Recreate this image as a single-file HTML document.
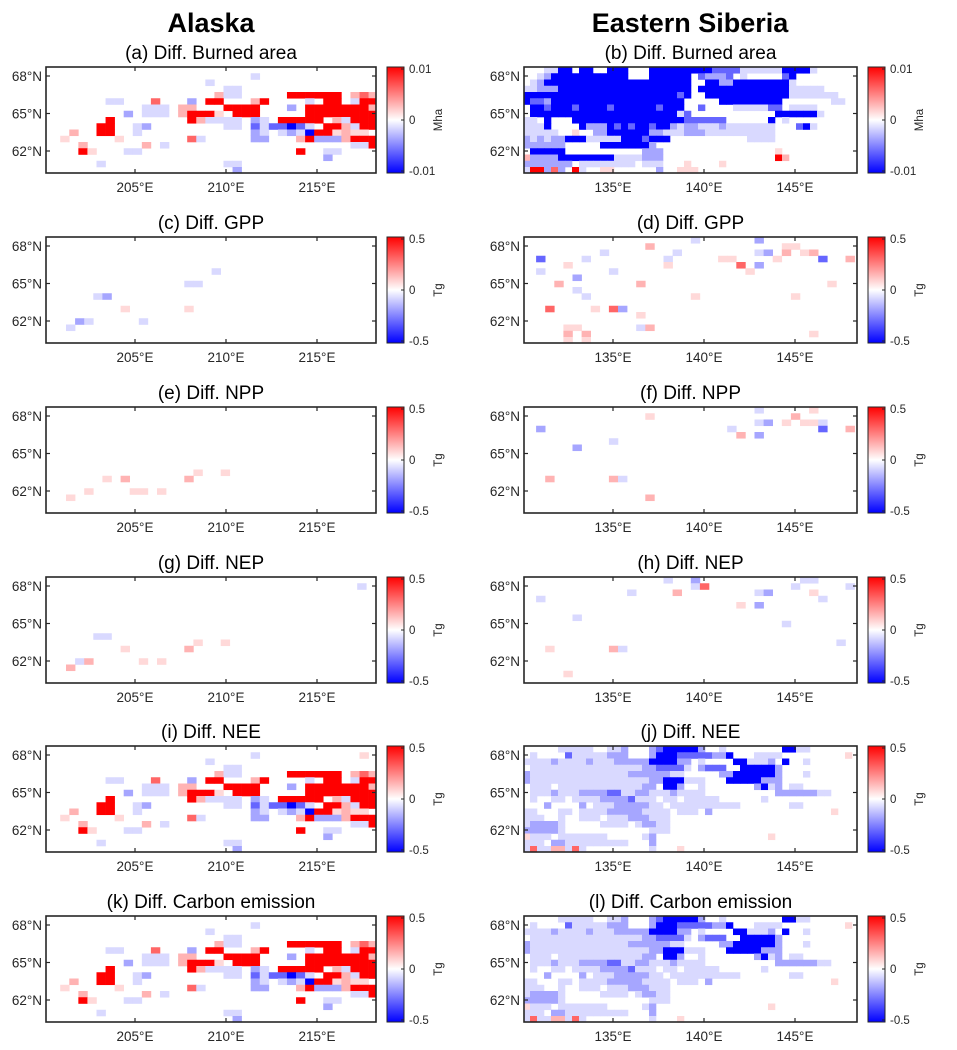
<!DOCTYPE html>
<html><head><meta charset="utf-8">
<style>
html,body{margin:0;padding:0;background:#fff;}
svg{display:block;font-family:"Liberation Sans",Arial,sans-serif;}
</style></head>
<body>
<svg id="fig" width="957" height="1050" viewBox="0 0 957 1050" xmlns="http://www.w3.org/2000/svg">
<defs>
<linearGradient id="cbgrad" x1="0" y1="0" x2="0" y2="1">
<stop offset="0" stop-color="#ff0000"/><stop offset="0.5" stop-color="#ffffff"/><stop offset="1" stop-color="#0000ff"/>
</linearGradient>
<clipPath id="clipL"><rect x="46" y="0" width="330" height="1050"/></clipPath>
<clipPath id="clipR"><rect x="524" y="0" width="333" height="1050"/></clipPath>
</defs>
<text x="211" y="32" font-size="27" font-weight="bold" text-anchor="middle">Alaska</text>
<text x="690" y="32" font-size="27" font-weight="bold" text-anchor="middle">Eastern Siberia</text>
</svg>
<script>
// value codes
const codeChars = ['.','p','q','r','R','l','m','b','B'];
const codeValues = [0,0.15,0.3,0.6,1,-0.15,-0.35,-0.6,-1];

const alaskaLonTicks = [205,210,215];
const siberiaLonTicks = [135,140,145];
const latTicks = [68,65,62];
const lonTickLabelsA = ['205°E','210°E','215°E'];
const lonTickLabelsS = ['135°E','140°E','145°E'];
const latTickLabels = ['68°N','65°N','62°N'];
const cbTicksBA = ['0.01','0','-0.01'];
const cbTicksTg = ['0.5','0','-0.5'];

const gridA = [
"......................................",
"........................l.............",
"...................l..................",
".....................ll...............",
"....................qll.....RRRRRR.qrq",
"........ll...r...m.RR...qR....l.RR.lRR",
"............lll.qq...RRRR...m.RRRRRRRq",
"..........m.lll.qRRRp.RRR.....RRRRRRRR",
"........R........Rqllll.ml.RRRRR.qlRRR",
".......RR..lm........ll.blbbBbl.RRqlRR",
"....q..RR..l............ml.lmlBRRpqpp",
"...p.....p.......rl.....mm...qRmmmqRRR",
".....q......q.l....................llR",
".....Rp...ll.................R..ll....",
"................................m.....",
".......l.............ll...............",
"......................m..............."];
const gridI = gridA.slice(0,1).concat(["........................l...........p."]).concat(gridA.slice(2));
const gridK = gridA.slice();

const gridB = [
"...llBB.BB..BBB...BBBBBBBBBbbbbllllllBBBBl......",
"..lmBBBBBBBBBBB...BBBBBB.bmmmb.l.....bB.........",
".lmBBBBBBBBBBBBBBBBBBBBB..BBmmBBBBBBBBl.........",
"llmmmBBBBBBBBBBBBBBBBBBB.BBBBBBBBBBBBBlllll.....",
"BBBBBBBBBBBBBBBBBBBBBBbB..BBBBBBBBBBBBlllllll...",
"BbbmBBBBBBBBBBBBBBBBBBB.....BBBBBBBBB.......ll..",
".BBbBBBbBBBBbBBBBBBbBBB..b....lllllbb.llll......",
".BBBBBBBBBBBBBBBBBBBBBlb............BBBBBBl.....",
"ll.B...BBBBBBBBBBBBBBBBbbbbbb......B.l..........",
"lllB....BmmmBbBbBBbBBmlmmlllmlllllll...bBl......",
"lllll..p..mmBBBBBBmmlllmmmllllllllll............",
"mlmlmmBBBlllllBBBbBBB...........llll............",
"mmmmmm.....BBBBBBBm.............................",
".BBBBB...........mmm................p...........",
"qmmmmBBBBBBBBllllmmm................Rq..........",
"mmmmmmm.llllllll.lll...p....p...................",
"lRRmrm.Rl..pp......m..ppp......................."];

const gridJ = [
".....lllll..llm...mbBBBBBm..l........BBll.......",
".l....blllllmmm...mBBBbbbbbmmB...llll.........p.",
"llllmllllmlllmmmmmBBBBmm.l....BBlllm.B..l.......",
".llllllllllllllllmmbbbbl.mbbb..BBBBBm...........",
"mllllllllllllllmmmmmmll.....mmBBBBBBm...l.......",
"mlllllllllllllllllmmBBBlll...BBBBBmmm...........",
".lll.llllllllllllmm.BBm..l.......mBlm.ll........",
".lllmlllmmmmbbllmmlllmllll..........mmmmmmll....",
".l..ll.llllmmmmblll.ll.lllll......l.............",
"...m....m.lllmmmmmll.llllllllll.......ll........",
"ll...ll.llllmmmmmllll.lll.m.................p...",
"lll..l..lll.lllmmmlll...........................",
"lmmmml.....llll.lmmll...........................",
"mmmmml............lll...........................",
"plll.lllllll.....lm................p............",
"lll.mmlllllllll...m.............................",
"lrllqqlrl.........l...p........................."];
const gridL = gridJ.slice();

// sparse panels: [col,row,code]
const cellsC = [[18,5,'l'],[15,7,'l'],[16,7,'l'],[5,9,'l'],[6,9,'m'],[8,11,'p'],[15,11,'p'],[3,13,'m'],[4,13,'l'],[10,13,'l'],[2,14,'l']];
const cellsE = [[16,10,'p'],[19,10,'p'],[6,11,'p'],[8,11,'q'],[15,11,'q'],[4,13,'p'],[9,13,'p'],[10,13,'p'],[12,13,'p'],[2,14,'p']];
const cellsG = [[34,1,'l'],[5,9,'l'],[6,9,'l'],[16,10,'p'],[19,10,'p'],[8,11,'p'],[15,11,'q'],[3,13,'l'],[4,13,'q'],[10,13,'p'],[12,13,'p'],[2,14,'q']];
const cellsD = [[18,0,'l'],[25,0,'m'],[28,1,'p'],[29,1,'p'],[13,1,'q'],[8,2,'l'],[16,2,'l'],[25,2,'l'],[26,2,'m'],[28,2,'q'],[30,2,'p'],[31,2,'q'],
[1,3,'b'],[6,3,'l'],[15,3,'l'],[21,3,'p'],[22,3,'p'],[27,3,'p'],[32,3,'b'],[35,3,'q'],[4,4,'p'],[15,4,'p'],[23,4,'r'],[25,4,'m'],
[1,5,'l'],[9,5,'l'],[24,5,'p'],[5,6,'m'],[3,7,'q'],[12,7,'q'],[33,7,'p'],[5,8,'l'],[6,9,'l'],[18,9,'p'],[29,9,'p'],
[2,11,'r'],[7,11,'p'],[9,11,'r'],[10,11,'m'],[12,12,'p'],[4,14,'p'],[5,14,'p'],[12,14,'l'],[13,14,'q'],[4,15,'q'],[6,15,'q'],[31,15,'p'],[4,16,'p'],[6,16,'p']];
const cellsF = [[25,0,'l'],[31,0,'p'],[13,1,'p'],[29,1,'q'],[25,2,'l'],[26,2,'m'],[28,2,'p'],[30,2,'p'],[31,2,'p'],[32,2,'l'],
[1,3,'m'],[22,3,'l'],[32,3,'b'],[35,3,'q'],[23,4,'q'],[25,4,'m'],[9,5,'l'],[5,6,'m'],[2,11,'q'],[9,11,'q'],[10,11,'l'],[13,14,'q']];
const cellsH = [[15,0,'l'],[18,0,'m'],[18,1,'l'],[30,0,'l'],[31,0,'l'],[19,1,'r'],[29,1,'l'],[35,1,'l'],[11,2,'l'],[16,2,'q'],[25,2,'l'],[26,2,'m'],[31,2,'p'],
[1,3,'l'],[32,3,'l'],[23,4,'p'],[25,4,'m'],[5,6,'l'],[28,7,'l'],[34,10,'l'],[2,11,'p'],[9,11,'q'],[10,11,'l'],[4,15,'p']];

const NS='http://www.w3.org/2000/svg';
const svg=document.getElementById('fig');
function mk(tag,attrs,parent){const e=document.createElementNS(NS,tag);for(const k in attrs)e.setAttribute(k,attrs[k]);(parent||svg).appendChild(e);return e;}
function valOf(ch){const i=codeChars.indexOf(ch);return i<0?0:codeValues[i];}
function colorOf(v){
  if(v>=0){const g=Math.round(255*(1-v));return 'rgb(255,'+g+','+g+')';}
  const g=Math.round(255*(1+v));return 'rgb('+g+','+g+',255)';
}
const BOX_H=106;
const tops=[67,237,407,577,746,916];
const leftBox={x:46,w:330,lon0:205,lonPx:135,pxPerDeg:18.2,clip:'clipL',cb:387};
const rightBox={x:524,w:333,lon0:135,lonPx:613,pxPerDeg:18.2,clip:'clipR',cb:868};
function xLon(box,lon){return box.lonPx+(lon-box.lon0)*box.pxPerDeg;}
function yLat(top,lat){return top+9+(68-lat)*12.5;}

const panels=[
 {box:leftBox,row:0,title:'(a) Diff. Burned area',name:'panel-a-burned-area-alaska',grid:gridA,x0:33,cw:9.07,cb:cbTicksBA,unit:'Mha'},
 {box:rightBox,row:0,title:'(b) Diff. Burned area',name:'panel-b-burned-area-siberia',grid:gridB,x0:523,cw:7,cb:cbTicksBA,unit:'Mha'},
 {box:leftBox,row:1,title:'(c) Diff. GPP',name:'panel-c-gpp-alaska',cells:cellsC,x0:47.8,cw:9.1,cb:cbTicksTg,unit:'Tg'},
 {box:rightBox,row:1,title:'(d) Diff. GPP',name:'panel-d-gpp-siberia',cells:cellsD,x0:527,cw:9.1,cb:cbTicksTg,unit:'Tg'},
 {box:leftBox,row:2,title:'(e) Diff. NPP',name:'panel-e-npp-alaska',cells:cellsE,x0:47.8,cw:9.1,cb:cbTicksTg,unit:'Tg'},
 {box:rightBox,row:2,title:'(f) Diff. NPP',name:'panel-f-npp-siberia',cells:cellsF,x0:527,cw:9.1,cb:cbTicksTg,unit:'Tg'},
 {box:leftBox,row:3,title:'(g) Diff. NEP',name:'panel-g-nep-alaska',cells:cellsG,x0:47.8,cw:9.1,cb:cbTicksTg,unit:'Tg'},
 {box:rightBox,row:3,title:'(h) Diff. NEP',name:'panel-h-nep-siberia',cells:cellsH,x0:527,cw:9.1,cb:cbTicksTg,unit:'Tg'},
 {box:leftBox,row:4,title:'(i) Diff. NEE',name:'panel-i-nee-alaska',grid:gridI,x0:33,cw:9.07,cb:cbTicksTg,unit:'Tg'},
 {box:rightBox,row:4,title:'(j) Diff. NEE',name:'panel-j-nee-siberia',grid:gridJ,x0:523,cw:7,cb:cbTicksTg,unit:'Tg'},
 {box:leftBox,row:5,title:'(k) Diff. Carbon emission',name:'panel-k-carbon-emission-alaska',grid:gridK,x0:33,cw:9.07,cb:cbTicksTg,unit:'Tg'},
 {box:rightBox,row:5,title:'(l) Diff. Carbon emission',name:'panel-l-carbon-emission-siberia',grid:gridL,x0:523,cw:7,cb:cbTicksTg,unit:'Tg'}
];
const RH=6.25;
panels.forEach(p=>{
  const top=tops[p.row], b=p.box;
  const g=mk('g',{});
  
  
  const t=mk('text',{x:b.x+b.w/2,y:top-8,'font-size':19,'text-anchor':'middle'},g);
  t.textContent=p.title;
  
  
  const cg=mk('g',{'clip-path':'url(#'+b.clip+')'},g);
  
  
  function cell(c,r,ch){
    const v=valOf(ch); if(v===0) return;
    const rc=mk('rect',{x:(p.x0+c*p.cw).toFixed(2),y:(top+r*RH).toFixed(2),width:p.cw+0.3,height:RH+0.3,fill:colorOf(v)},cg);
    
    
  }
  if(p.grid){p.grid.forEach((row,r)=>{for(let c=0;c<row.length;c++)cell(c,r,row[c]);});}
  if(p.cells){p.cells.forEach(q=>cell(q[0],q[1],q[2]));}
  const fr=mk('rect',{x:b.x,y:top,width:b.w,height:BOX_H,fill:'none',stroke:'#262626','stroke-width':1.6},g);
  
  
  const lons=b===leftBox?alaskaLonTicks:siberiaLonTicks;
  const lonLabs=b===leftBox?lonTickLabelsA:lonTickLabelsS;
  lons.forEach((lon,i)=>{
    const x=xLon(b,lon);
    mk('line',{x1:x,x2:x,y1:top,y2:top+4,stroke:'#262626','stroke-width':1.2},g);
    mk('line',{x1:x,x2:x,y1:top+BOX_H,y2:top+BOX_H-4,stroke:'#262626','stroke-width':1.2},g);
    const tl=mk('text',{x:x,y:top+BOX_H+19,'font-size':13.5,'text-anchor':'middle',fill:'#262626'},g);
    tl.textContent=lonLabs[i];
    
    
  });
  latTicks.forEach((lat,i)=>{
    const y=yLat(top,lat);
    mk('line',{x1:b.x,x2:b.x+4,y1:y,y2:y,stroke:'#262626','stroke-width':1.2},g);
    mk('line',{x1:b.x+b.w,x2:b.x+b.w-4,y1:y,y2:y,stroke:'#262626','stroke-width':1.2},g);
    const tl=mk('text',{x:b.x-4,y:y+5,'font-size':13.5,'text-anchor':'end',fill:'#262626'},g);
    tl.textContent=latTickLabels[i];
    
    
  });
  // colorbar
  const cbx=b.cb;
  const cbr=mk('rect',{x:cbx,y:top,width:17,height:BOX_H,fill:'url(#cbgrad)',stroke:'#262626','stroke-width':1},g);
  
  
  p.cb.forEach((lab,i)=>{
    const y=top+2+i*(BOX_H-4)/2;
    mk('line',{x1:cbx+17,x2:cbx+14,y1:y,y2:y,stroke:'#262626','stroke-width':1},g);
    const tl=mk('text',{x:cbx+22,y:y+4,'font-size':11.5,fill:'#262626'},g);
    tl.textContent=lab;
    
    
  });
  const ux=cbx+55, uy=top+BOX_H/2;
  const ul=mk('text',{x:ux,y:uy,'font-size':11.5,'text-anchor':'middle',fill:'#262626',transform:'rotate(-90 '+ux+' '+uy+')'},g);
  ul.textContent=p.unit;
  
  
});
</script>
</body></html>
